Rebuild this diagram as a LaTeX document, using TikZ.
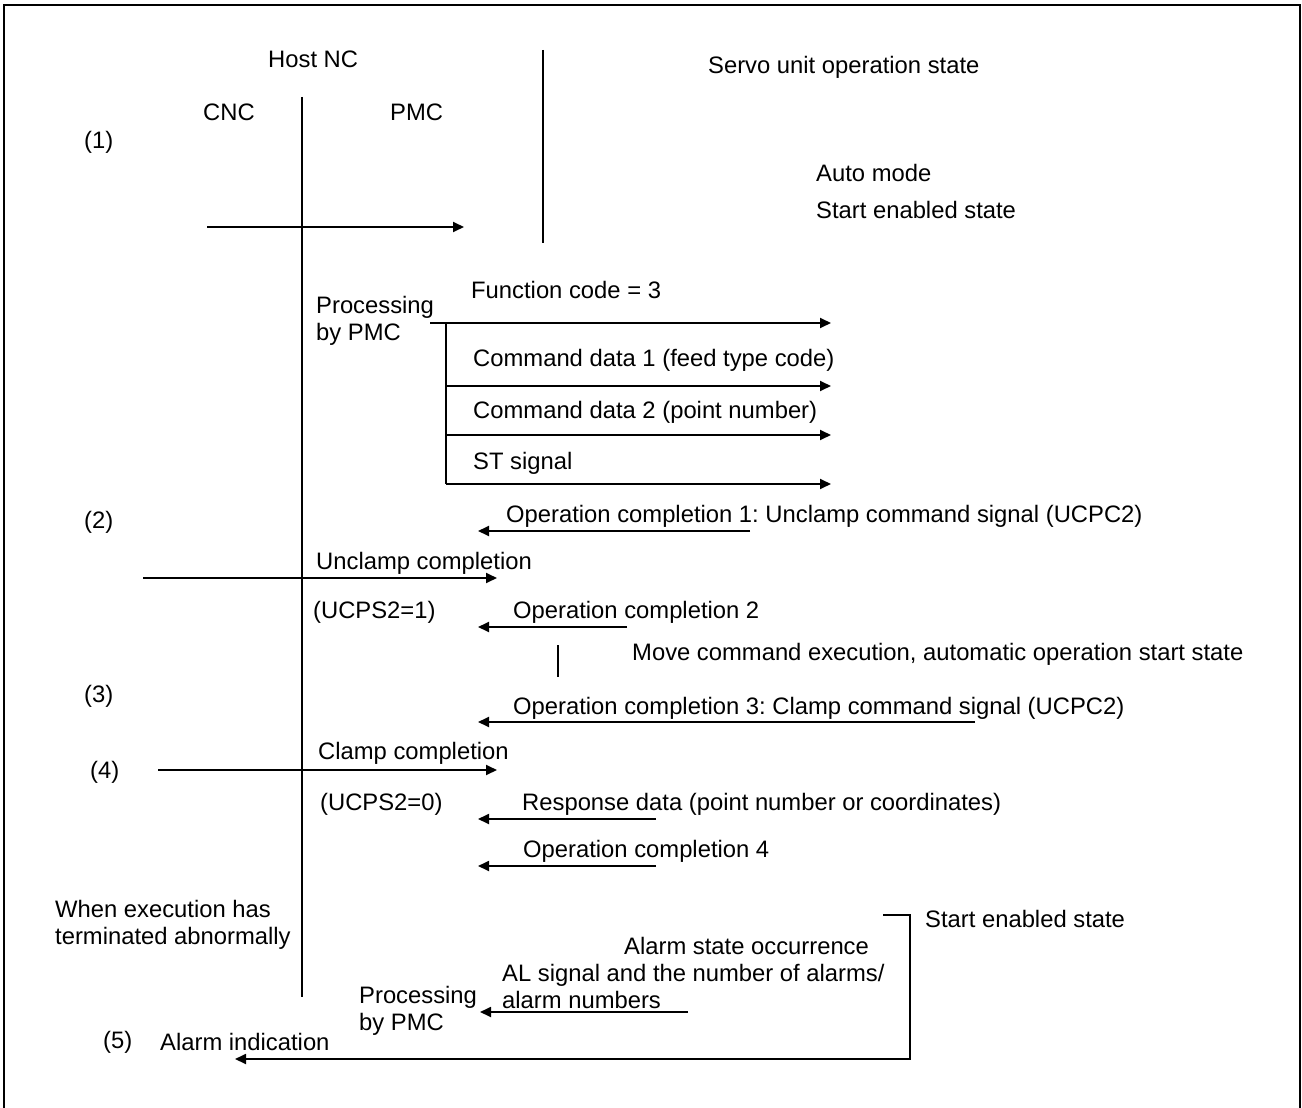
\documentclass[tikz,border=0pt]{standalone}
\usepackage{fontspec}
\setmainfont{Liberation Sans}
\usetikzlibrary{arrows.meta}
\frenchspacing
\begin{document}
\begin{tikzpicture}[x=1pt,y=-1pt,
 lbl/.style={anchor=base west,inner sep=0pt,font=\fontsize{23.8}{27}\selectfont},
 mlbl/.style={anchor=north west,inner sep=0pt,align=left,font=\fontsize{23.8}{27}\selectfont},
 ln/.style={line width=1.8pt},
 arr/.style={line width=1.8pt,-{Triangle[length=11pt,width=10pt]}},
]
\useasboundingbox (0,0) rectangle (1302,1108);
\fill[white] (0,0) rectangle (1302,1108);
\draw[line width=2.2pt] (4,1125) -- (4,5) -- (1300,5) -- (1300,1125);

% labels
\node[lbl] (host) at (268,68) {Host NC};
\node[lbl] (cnc) at (203,121) {CNC};
\node[lbl] (pmc) at (390,121) {PMC};
\node[lbl] (n1) at (84,148) {(1)};
\node[lbl] (servo) at (708,74) {Servo unit operation state};
\node[lbl] (auto) at (816,181) {Auto mode};
\node[lbl] (sen1) at (816,218) {Start enabled state};
\node[lbl] (fc) at (471,298) {Function code = 3};
\node[mlbl] (proc1) at (316,296) {Processing\\by PMC};
\node[lbl] (cd1) at (473,366) {Command data 1 (feed type code)};
\node[lbl] (cd2) at (473,418) {Command data 2 (point number)};
\node[lbl] (st) at (473,469) {ST signal};
\node[lbl] (n2) at (84,528) {(2)};
\node[lbl] (oc1) at (506,522) {Operation completion 1: Unclamp command signal (UCPC2)};
\node[lbl] (ucc) at (316,569) {Unclamp completion};
\node[lbl] (ucps1) at (313,618) {(UCPS2=1)};
\node[lbl] (oc2) at (513,618) {Operation completion 2};
\node[lbl] (move) at (632,660) {Move command execution, automatic operation start state};
\node[lbl] (n3) at (84,702) {(3)};
\node[lbl] (oc3) at (513,714) {Operation completion 3: Clamp command signal (UCPC2)};
\node[lbl] (cc) at (318,759) {Clamp completion};
\node[lbl] (n4) at (90,778) {(4)};
\node[lbl] (ucps0) at (320,810) {(UCPS2=0)};
\node[lbl] (resp) at (522,810) {Response data (point number or coordinates)};
\node[lbl] (oc4) at (523,857) {Operation completion 4};
\node[mlbl] (abn) at (55,900) {When execution has\\terminated abnormally};
\node[lbl] (sen2) at (925,927) {Start enabled state};
\node[lbl] (alst) at (624,954) {Alarm state occurrence};
\node[mlbl] (alsig) at (502,964) {AL signal and the number of alarms/\\alarm numbers};
\node[mlbl] (proc2) at (359,986) {Processing\\by PMC};
\node[lbl] (n5) at (103,1048) {(5)};
\node[lbl] (alind) at (160,1050) {Alarm indication};

% lifelines
\coordinate (vt) at (302,97);
\coordinate (vb) at (302,997);
\draw[ln] (vt) -- (vb);
\coordinate (st1) at (543,50);
\coordinate (st2) at (543,243);
\draw[ln] (st1) -- (st2);

% (1)
\coordinate (a1s) at (207,227);
\coordinate (a1e) at (464,227);
\draw[arr] (a1s) -- (a1e);

% processing bracket
\coordinate (pb0) at (430,323);
\coordinate (pb1) at (446,323);
\coordinate (pb2) at (446,386);
\coordinate (pb3) at (446,435);
\coordinate (pb4) at (446,484);
\coordinate (pe1) at (831,323);
\coordinate (pe2) at (831,386);
\coordinate (pe3) at (831,435);
\coordinate (pe4) at (831,484);
\draw[ln] (pb0) -- (pb1) -- (pb4);
\draw[arr] (pb1) -- (pe1);
\draw[arr] (pb2) -- (pe2);
\draw[arr] (pb3) -- (pe3);
\draw[arr] (pb4) -- (pe4);

% (2)
\coordinate (o1s) at (750,531);
\coordinate (o1e) at (478,531);
\draw[arr] (o1s) -- (o1e);
\coordinate (ucs) at (143,578);
\coordinate (uce) at (497,578);
\draw[arr] (ucs) -- (uce);
\coordinate (o2s) at (627,627);
\coordinate (o2e) at (478,627);
\draw[arr] (o2s) -- (o2e);
\coordinate (mv1) at (558,645);
\coordinate (mv2) at (558,677);
\draw[ln] (mv1) -- (mv2);

% (3)
\coordinate (o3s) at (975,722);
\coordinate (o3e) at (478,722);
\draw[arr] (o3s) -- (o3e);

% (4)
\coordinate (ccs) at (158,770);
\coordinate (cce) at (497,770);
\draw[arr] (ccs) -- (cce);
\coordinate (rds) at (656,819);
\coordinate (rde) at (478,819);
\draw[arr] (rds) -- (rde);
\coordinate (o4s) at (656,866);
\coordinate (o4e) at (478,866);
\draw[arr] (o4s) -- (o4e);

% (5)
\coordinate (bk0) at (883,915);
\coordinate (bk1) at (910,915);
\coordinate (bk2) at (910,1059);
\coordinate (bke) at (235,1059);
\draw[arr] (bk0) -- (bk1) -- (bk2) -- (bke);
\coordinate (als) at (688,1012);
\coordinate (ale) at (480,1012);
\draw[arr] (als) -- (ale);
\end{tikzpicture}
\end{document}
